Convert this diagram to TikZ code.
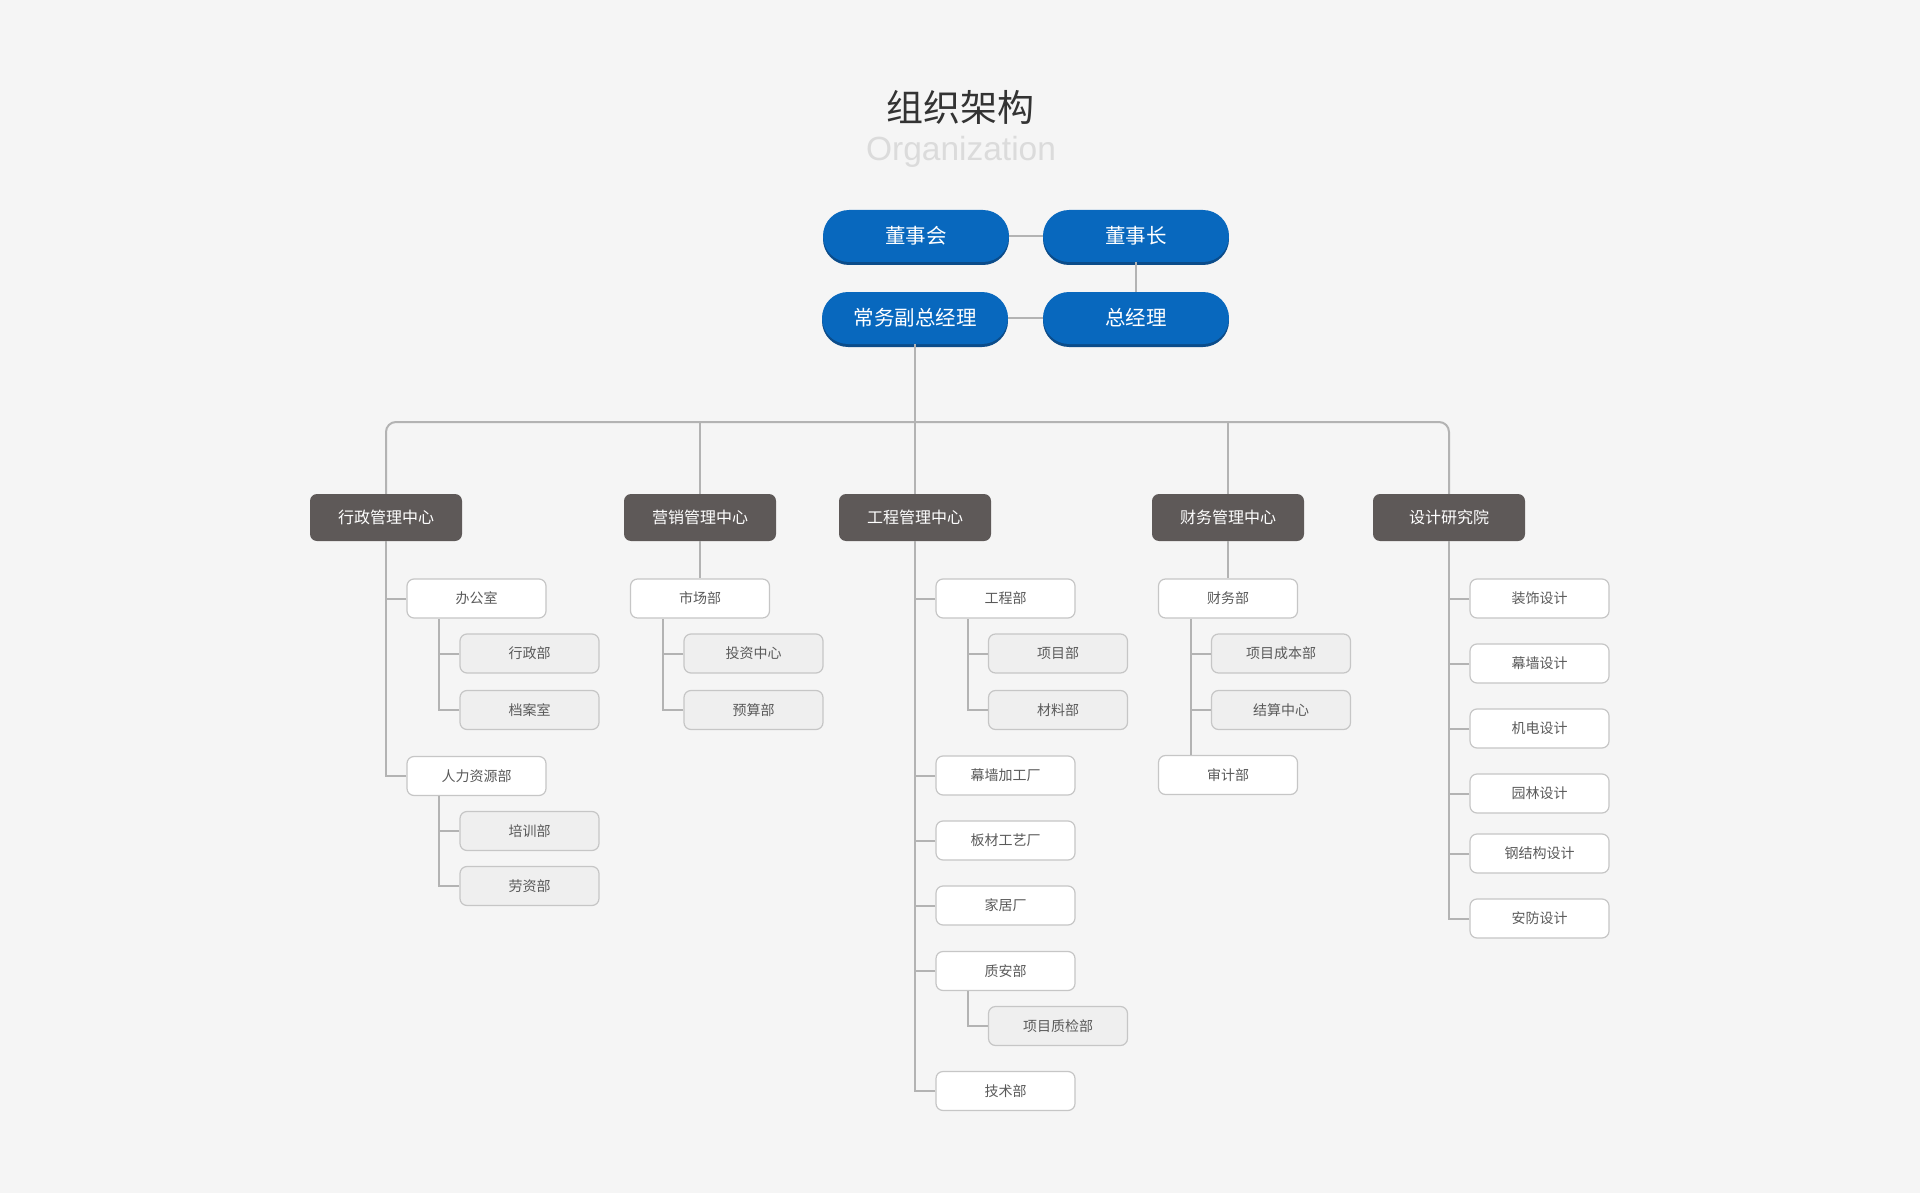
\documentclass[tikz,border=0pt]{standalone}
\usepackage{fontspec}
\setmainfont{Noto Sans CJK SC}
\newfontfamily\latinfont{Liberation Sans}
\usetikzlibrary{positioning}
\definecolor{bgcol}{HTML}{F5F5F5}
\definecolor{topblue}{HTML}{0868BE}
\definecolor{topshadow}{HTML}{0B4C8A}
\definecolor{centergray}{HTML}{5E5958}
\definecolor{linegray}{HTML}{B3B3B3}
\definecolor{boxborder}{HTML}{C6C6C6}
\definecolor{subfill}{HTML}{EFEFEF}
\definecolor{boxtext}{HTML}{5A5A5A}
\tikzset
{
    titletext/.style    = {text=black!80, inner sep=0pt, font=\fontsize{37}{42}\selectfont},
    subtitletext/.style = {text=black!14, inner sep=0pt, font=\latinfont\fontsize{33.5}{38}\selectfont},
    topnode/.style      = {rectangle, rounded corners=26pt, fill=topblue, text=white, minimum width=186pt, minimum height=52pt, inner sep=0pt, font=\fontsize{20.5}{24}\selectfont, preaction={fill=topshadow, transform canvas={yshift=-3pt}}},
    centernode/.style   = {rectangle, rounded corners=7pt, fill=centergray, text=white, minimum width=152pt, minimum height=47pt, inner sep=0pt, font=\fontsize{16}{19}\selectfont},
    deptnode/.style     = {rectangle, rounded corners=7pt, fill=white, draw=boxborder, line width=1.2pt, text=boxtext, minimum width=139pt, minimum height=39pt, inner sep=0pt, font=\fontsize{14}{16}\selectfont},
    subnode/.style      = {deptnode, fill=subfill},
    orgline/.style      = {draw=linegray, line width=2pt}
}
\begin{document}
\begin{tikzpicture}[x=1pt, y=-1pt]
\fill [bgcol] (0,0) rectangle (1920,1193);
% title
\node [titletext] at (960,107) (title) {组织架构};
\node [subtitletext] at (961,152) (subtitle) {Organization};
% top management
\node [topnode] at (916,236) (council) {董事会};
\node [topnode] at (1136,236) (chairman) {董事长};
\node [topnode] at (915,318) (deputy) {常务副总经理};
\node [topnode] at (1136,318) (manager) {总经理};
\draw [orgline] (council) -- (chairman);
\draw [orgline] (chairman) -- (manager);
\draw [orgline] (deputy) -- (manager);
% centres
\node [centernode] at (386,517.5) (admin) {行政管理中心};
\node [centernode] at (700,517.5) (sales) {营销管理中心};
\node [centernode] at (915,517.5) (eng) {工程管理中心};
\node [centernode] at (1228,517.5) (fin) {财务管理中心};
\node [centernode] at (1449,517.5) (design) {设计研究院};
\coordinate (bus) at (915,422);
\draw [orgline, rounded corners=10pt] (admin.north) |- (bus) -| (design.north);
\draw [orgline] (deputy.south) -- (eng.north);
\draw [orgline] (sales.north |- bus) -- (sales.north);
\draw [orgline] (fin.north |- bus) -- (fin.north);
% admin
\node [deptnode] at (476.5,598.5) (office) {办公室};
\node [subnode] at (529.5,653.5) (admindept) {行政部};
\node [subnode] at (529.5,710) (archive) {档案室};
\node [deptnode] at (476.5,776) (hr) {人力资源部};
\node [subnode] at (529.5,831) (training) {培训部};
\node [subnode] at (529.5,886) (labour) {劳资部};
\draw [orgline] (office.west) -| (admin.south);
\draw [orgline] (hr.west) -| (admin.south);
\draw [orgline] (admindept.west) -| ([xshift=33pt]office.south west);
\draw [orgline] (archive.west) -| ([xshift=33pt]office.south west);
\draw [orgline] (training.west) -| ([xshift=33pt]hr.south west);
\draw [orgline] (labour.west) -| ([xshift=33pt]hr.south west);
% sales
\node [deptnode] at (700,598.5) (market) {市场部};
\node [subnode] at (753.5,653.5) (invest) {投资中心};
\node [subnode] at (753.5,710) (budget) {预算部};
\draw [orgline] (sales.south) -- (market.north);
\draw [orgline] (invest.west) -| ([xshift=33pt]market.south west);
\draw [orgline] (budget.west) -| ([xshift=33pt]market.south west);
% engineering
\node [deptnode] at (1005.5,598.5) (engdept) {工程部};
\node [subnode] at (1058,653.5) (project) {项目部};
\node [subnode] at (1058,710) (material) {材料部};
\node [deptnode] at (1005.5,775.5) (curtain) {幕墙加工厂};
\node [deptnode] at (1005.5,840.5) (panel) {板材工艺厂};
\node [deptnode] at (1005.5,905.5) (home) {家居厂};
\node [deptnode] at (1005.5,971) (safety) {质安部};
\node [subnode] at (1058,1026) (inspect) {项目质检部};
\node [deptnode] at (1005.5,1091) (tech) {技术部};
\draw [orgline] (engdept.west) -| (eng.south);
\draw [orgline] (curtain.west) -| (eng.south);
\draw [orgline] (panel.west) -| (eng.south);
\draw [orgline] (home.west) -| (eng.south);
\draw [orgline] (safety.west) -| (eng.south);
\draw [orgline] (tech.west) -| (eng.south);
\draw [orgline] (project.west) -| ([xshift=33pt]engdept.south west);
\draw [orgline] (material.west) -| ([xshift=33pt]engdept.south west);
\draw [orgline] (inspect.west) -| ([xshift=33pt]safety.south west);
% finance
\node [deptnode] at (1228,598.5) (findept) {财务部};
\node [subnode] at (1281,653.5) (cost) {项目成本部};
\node [subnode] at (1281,710) (settle) {结算中心};
\node [deptnode] at (1228,775) (audit) {审计部};
\draw [orgline] (fin.south) -- (findept.north);
\draw [orgline] ([xshift=33pt]findept.south west) -- ([xshift=33pt]audit.north west);
\draw [orgline] (cost.west) -| ([xshift=33pt]findept.south west);
\draw [orgline] (settle.west) -| ([xshift=33pt]findept.south west);
% design
\node [deptnode] at (1539.5,598.5) (decor) {装饰设计};
\node [deptnode] at (1539.5,663.5) (wall) {幕墙设计};
\node [deptnode] at (1539.5,728.5) (mep) {机电设计};
\node [deptnode] at (1539.5,793.5) (garden) {园林设计};
\node [deptnode] at (1539.5,853.5) (steel) {钢结构设计};
\node [deptnode] at (1539.5,918.5) (security) {安防设计};
\draw [orgline] (decor.west) -| (design.south);
\draw [orgline] (wall.west) -| (design.south);
\draw [orgline] (mep.west) -| (design.south);
\draw [orgline] (garden.west) -| (design.south);
\draw [orgline] (steel.west) -| (design.south);
\draw [orgline] (security.west) -| (design.south);
\end{tikzpicture}
\end{document}
